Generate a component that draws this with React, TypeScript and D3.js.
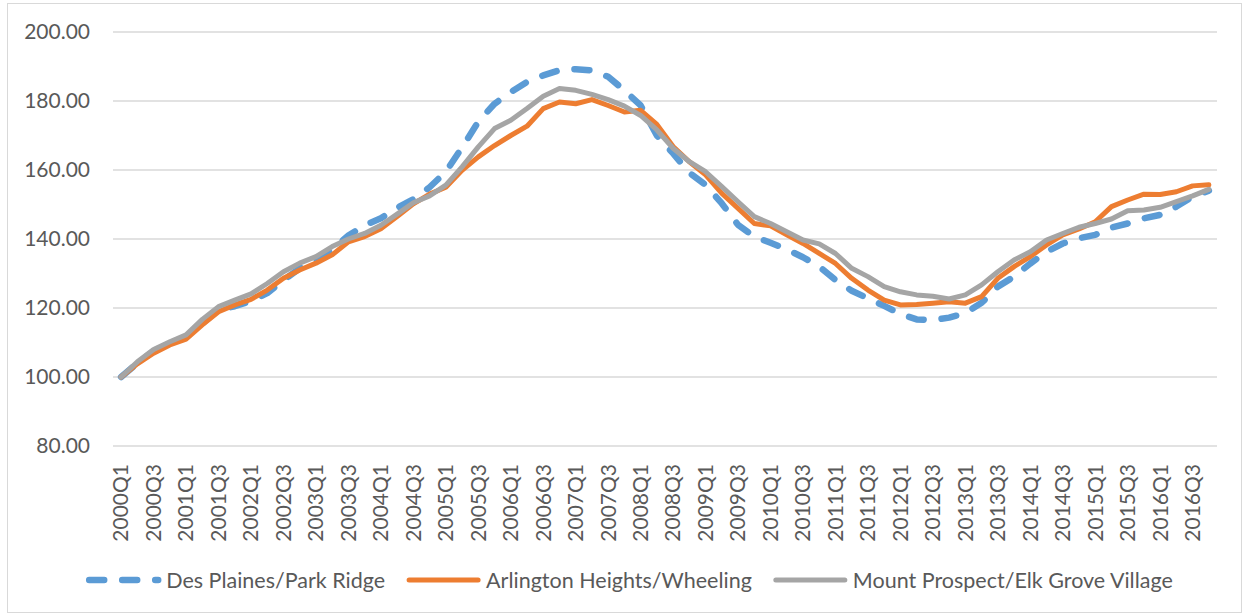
import React, { useEffect, useRef } from "react";
import * as d3 from "d3";

const years = [2000, 2001, 2002, 2003, 2004, 2005, 2006, 2007, 2008, 2009, 2010, 2011, 2012, 2013, 2014, 2015, 2016];
const quarterNames = ["Q1", "Q2", "Q3", "Q4"];
const quarters = years.flatMap((y) => quarterNames.map((q) => `${y}${q}`));

const yTicks = [80, 100, 120, 140, 160, 180, 200];

// Des Plaines/Park Ridge
const desPlaines = [
  100, 104, 107.5, 109.8, 111.5, 115.5, 119.5, 120.5,
  122, 124.3, 128, 131.5, 133.5, 137, 141, 144,
  146, 149, 151.5, 155, 159.5, 166.5, 174, 179.2,
  182.6, 185.5, 187.4, 188.9, 189.2, 188.9, 187.0, 183.1,
  178.7, 170.0, 164.8, 159.2, 155.7, 150.3, 144.1, 140.7,
  138.9, 137.0, 134.7, 132.0, 128.1, 125.0, 122.8, 120.6,
  118.3, 116.7, 116.5, 117.2, 118.5, 121.5, 126.2, 129.1,
  132.9, 136.3, 138.7, 140.2, 141.2, 143.3, 144.5, 146.0,
  147.0, 149.4, 152.3, 154.0,
];

// Arlington Heights/Wheeling
const arlington = [
  100, 103.8, 106.9, 109.3, 111.0, 115.1, 118.9, 120.9,
  122.5, 125.2, 128.6, 131.0, 133.0, 135.4, 139.2, 140.7,
  143, 146.5, 150.2, 153, 155, 159.9, 163.8, 167.1,
  170.0, 172.7, 177.8, 179.7, 179.2, 180.4, 178.7, 176.8,
  177.3, 173.2, 166.8, 162.4, 158.6, 153.2, 148.9, 144.5,
  143.8, 141.2, 138.7, 135.8, 132.9, 128.6, 125.2, 122.3,
  120.9, 121.0, 121.4, 121.8, 121.4, 123.3, 128.6, 132.0,
  134.9, 138.3, 141.2, 142.9, 145.0, 149.4, 151.3, 153.0,
  152.9, 153.7, 155.4, 155.7,
];

// Mount Prospect/Elk Grove Village
const mountProspect = [
  100, 104.4, 108.0, 110.2, 112.2, 116.7, 120.4, 122.3,
  124.1, 127.1, 130.5, 133.0, 134.9, 137.8, 140.0, 141.6,
  144, 147.2, 150.5, 152.5, 155.6, 160.9, 166.7, 172.0,
  174.4, 177.8, 181.4, 183.6, 183.1, 181.9, 180.4, 178.5,
  175.8, 171.6, 166.3, 162.4, 159.5, 155.2, 150.8, 146.5,
  144.5, 142.1, 139.7, 138.6, 135.8, 131.5, 129.1, 126.2,
  124.7, 123.8, 123.4, 122.6, 123.8, 126.7, 130.5, 133.9,
  136.3, 139.7, 141.6, 143.4, 144.5, 145.8, 148.2, 148.4,
  149.2, 150.8, 152.5, 154.4,
];

const series = [
  { name: "Des Plaines/Park Ridge", values: desPlaines, color: "#5B9BD5", dash: "15 18", width: 6.5 },
  { name: "Arlington Heights/Wheeling", values: arlington, color: "#ED7D31", dash: null, width: 5 },
  { name: "Mount Prospect/Elk Grove Village", values: mountProspect, color: "#A5A5A5", dash: null, width: 5 },
];

const W = 1244;
const H = 615;
const FONT = "Lato, 'Liberation Sans', sans-serif";
const TEXT = "#595959";

export default function App() {
  const ref = useRef<SVGSVGElement>(null);

  useEffect(() => {
    document.body.style.margin = "0";
    const svg = d3.select(ref.current);
    svg.selectAll("*").remove();

    const margin = { top: 32, right: 27, bottom: 169, left: 113 };

    // chart border
    svg
      .append("rect")
      .attr("x", 7.5)
      .attr("y", 3.5)
      .attr("width", W - 10)
      .attr("height", H - 6)
      .attr("fill", "#fff")
      .attr("stroke", "#D9D9D9")
      .attr("stroke-width", 1);

    const x = d3
      .scaleBand()
      .domain(quarters)
      .range([margin.left, W - margin.right])
      .padding(0);

    const y = d3
      .scaleLinear()
      .domain([80, 200])
      .range([H - margin.bottom, margin.top]);

    // gridlines
    svg
      .append("g")
      .selectAll("line")
      .data(yTicks)
      .join("line")
      .attr("x1", margin.left)
      .attr("x2", W - margin.right)
      .attr("y1", (d) => y(d))
      .attr("y2", (d) => y(d))
      .attr("stroke", "#D9D9D9")
      .attr("stroke-width", 1.3);

    // y labels
    svg
      .append("g")
      .selectAll("text")
      .data(yTicks)
      .join("text")
      .attr("x", 90)
      .attr("y", (d) => y(d))
      .attr("dy", "0.35em")
      .attr("text-anchor", "end")
      .attr("font-family", FONT)
      .attr("font-size", 21)
      .attr("fill", TEXT)
      .text((d) => d.toFixed(2));

    // x labels (every other quarter)
    const half = x.bandwidth() / 2;
    svg
      .append("g")
      .selectAll("text")
      .data(quarters.filter((_, i) => i % 2 === 0))
      .join("text")
      .attr("transform", (d) => `translate(${(x(d) as number) + half},${y(80) + 18}) rotate(-90)`)
      .attr("dy", "0.35em")
      .attr("text-anchor", "end")
      .attr("font-family", FONT)
      .attr("font-size", 21)
      .attr("fill", TEXT)
      .text((d) => d);

    // lines
    const line = d3
      .line<number>()
      .x((_, i) => (x(quarters[i]) as number) + half)
      .y((d) => y(d));

    series.forEach((s) => {
      svg
        .append("path")
        .datum(s.values)
        .attr("d", line)
        .attr("fill", "none")
        .attr("stroke", s.color)
        .attr("stroke-width", s.width)
        .attr("stroke-linejoin", "round")
        .attr("stroke-linecap", "round")
        .attr("stroke-dasharray", s.dash);
    });

    // legend
    const legendY = 580;
    const symbolW = 69;
    const legend = svg.append("g");
    const items = series.map((s) => {
      const g = legend.append("g");
      g.append("line")
        .attr("x1", 0)
        .attr("x2", symbolW)
        .attr("y1", 0)
        .attr("y2", 0)
        .attr("stroke", s.color)
        .attr("stroke-width", s.width)
        .attr("stroke-linecap", "round")
        .attr("stroke-dasharray", s.dash);
      const t = g
        .append("text")
        .attr("x", symbolW + 8)
        .attr("y", 0)
        .attr("dy", "0.35em")
        .attr("font-family", FONT)
        .attr("font-size", 21.5)
        .attr("fill", TEXT)
        .text(s.name);
      const tw = (t.node() as SVGTextElement).getComputedTextLength();
      return { g, w: symbolW + 8 + tw };
    });
    const gap = 24;
    const total = d3.sum(items, (d) => d.w) + gap * (items.length - 1);
    let cx = 631 - total / 2;
    items.forEach((it) => {
      it.g.attr("transform", `translate(${cx},${legendY})`);
      cx += it.w + gap;
    });
  }, []);

  return <svg ref={ref} width={W} height={H} style={{ display: "block" }} />;
}
